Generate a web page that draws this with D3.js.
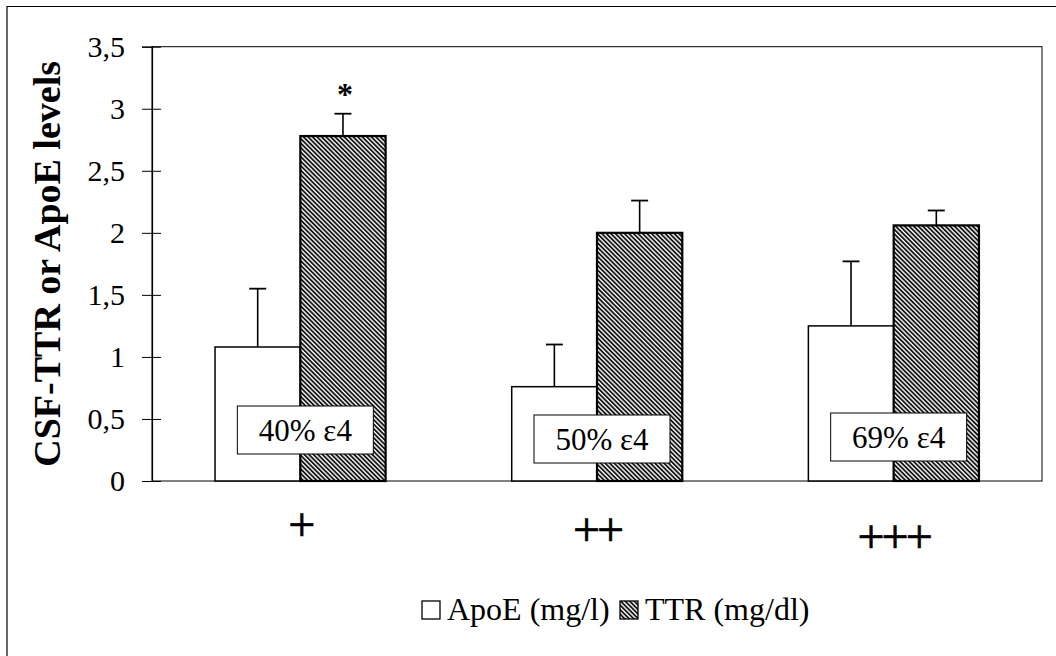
<!DOCTYPE html>
<html>
<head>
<meta charset="utf-8">
<script src="https://cdn.jsdelivr.net/npm/d3@7"></script>
<style>
  html, body { margin: 0; padding: 0; background: #fff; }
  svg { display: block; }
  text { font-family: "Liberation Serif", "Times New Roman", serif; fill: #000; }
</style>
</head>
<body>
<svg id="chart" width="1056" height="656"></svg>
<script>
// ---- data ----
const categories = ["+", "++", "+++"];
const series = ["ApoE (mg/l)", "TTR (mg/dl)"];
const apoeValues = [1.08, 0.76, 1.25];
const apoeErrors = [0.47, 0.34, 0.52];
const ttrValues = [2.78, 2.00, 2.06];
const ttrErrors = [0.18, 0.26, 0.12];
const e4Labels = ["40% ε4", "50% ε4", "69% ε4"];
const significance = ["*", "", ""];
const yTicks = [0, 0.5, 1, 1.5, 2, 2.5, 3, 3.5];
const yTitle = "CSF-TTR or ApoE levels";

// layout constants (not data)
const boxTops = [406, 415, 413];
const catBaselines = [541, 546, 553];

const svg = d3.select("#chart");

// hatch pattern
const defs = svg.append("defs");
const pat = defs.append("pattern")
  .attr("id", "hatch")
  .attr("patternUnits", "userSpaceOnUse")
  .attr("width", 3.2).attr("height", 3.2)
  .attr("patternTransform", "rotate(-45)");
pat.append("rect").attr("width", 3.2).attr("height", 3.2).attr("fill", "#fff");
pat.append("line").attr("x1", 1).attr("y1", 0).attr("x2", 1).attr("y2", 3.2)
  .attr("stroke", "#000").attr("stroke-width", 1.7);

// outer border (left and top visible)
svg.append("line").attr("x1", 7).attr("y1", 6).attr("x2", 7).attr("y2", 656)
  .attr("stroke", "#000").attr("stroke-width", 1.2);
svg.append("line").attr("x1", 7).attr("y1", 6.5).attr("x2", 1056).attr("y2", 6.5)
  .attr("stroke", "#000").attr("stroke-width", 1.2);

const plot = { left: 152, right: 1042, top: 46.7, bottom: 481 };

const y = d3.scaleLinear().domain([0, 3.5]).range([plot.bottom, plot.top]);
const x0 = d3.scaleBand().domain(categories)
  .range([plot.left, plot.right]).paddingInner(0.425).paddingOuter(0.2125);
const x1 = d3.scaleBand().domain(series).range([0, x0.bandwidth()]).padding(0);

// plot frame
svg.append("rect")
  .attr("x", plot.left).attr("y", plot.top)
  .attr("width", plot.right - plot.left).attr("height", plot.bottom - plot.top)
  .attr("fill", "none").attr("stroke", "#000").attr("stroke-width", 1);

// y axis
const yAxis = d3.axisLeft(y).tickValues(yTicks).tickSize(10).tickPadding(17)
  .tickFormat(d => String(d).replace(".", ","));
const gy = svg.append("g").attr("transform", `translate(${plot.left},0)`).call(yAxis);
gy.select(".domain").attr("stroke", "#000").attr("stroke-width", 1.2);
gy.selectAll(".tick line").attr("x1", 9).attr("stroke", "#000").attr("stroke-width", 1);
gy.selectAll(".tick text")
  .attr("font-family", "Liberation Serif").attr("font-size", 30).attr("fill", "#000");

// y title
svg.append("text")
  .attr("transform", `translate(60,${(plot.top + plot.bottom) / 2}) rotate(-90)`)
  .attr("text-anchor", "middle")
  .attr("font-size", 38).attr("font-weight", "bold")
  .text(yTitle);

// bars
const rows = categories.map((c, i) => ({
  i,
  cat: c,
  bars: [
    { s: series[0], v: apoeValues[i], e: apoeErrors[i] },
    { s: series[1], v: ttrValues[i], e: ttrErrors[i] }
  ],
  label: e4Labels[i],
  sig: significance[i]
}));

const groups = svg.selectAll("g.grp").data(rows).join("g")
  .attr("class", "grp")
  .attr("transform", d => `translate(${x0(d.cat)},0)`);

// error bars
groups.selectAll("g.err").data(d => d.bars).join("g").attr("class", "err")
  .each(function (d) {
    const g = d3.select(this);
    const cx = x1(d.s) + x1.bandwidth() / 2;
    g.append("line").attr("x1", cx).attr("x2", cx)
      .attr("y1", y(d.v)).attr("y2", y(d.v + d.e))
      .attr("stroke", "#000").attr("stroke-width", 1.6);
    g.append("line").attr("x1", cx - 8.5).attr("x2", cx + 8.5)
      .attr("y1", y(d.v + d.e)).attr("y2", y(d.v + d.e))
      .attr("stroke", "#000").attr("stroke-width", 1.8);
  });

groups.selectAll("rect.bar").data(d => d.bars).join("rect").attr("class", "bar")
  .attr("x", d => x1(d.s))
  .attr("y", d => y(d.v))
  .attr("width", x1.bandwidth())
  .attr("height", d => y(0) - y(d.v))
  .attr("fill", d => d.s === series[0] ? "#fff" : "url(#hatch)")
  .attr("stroke", "#000")
  .attr("stroke-width", d => d.s === series[0] ? 1.5 : 2.2);

// significance marker
groups.append("text")
  .attr("x", x1(series[1]) + x1.bandwidth() / 2 + 2)
  .attr("y", d => y(d.bars[1].v + d.bars[1].e) - 9)
  .attr("text-anchor", "middle")
  .attr("font-family", "Liberation Sans").attr("font-weight", "bold")
  .attr("font-size", 32)
  .text(d => d.sig);

// e4 label boxes
const boxW = 136, boxH = 48;
const labelG = groups.append("g")
  .attr("transform", d => `translate(${x0.bandwidth() / 2 + 5},${boxTops[d.i]})`);
labelG.append("rect")
  .attr("x", -boxW / 2).attr("y", 0)
  .attr("width", boxW).attr("height", boxH)
  .attr("fill", "#fff").attr("stroke", "#000").attr("stroke-width", 1);
labelG.append("text")
  .attr("x", 0).attr("y", boxH / 2 + 11)
  .attr("text-anchor", "middle").attr("font-size", 31)
  .text(d => d.label);

// category labels
svg.selectAll("text.cat").data(categories).join("text")
  .attr("class", "cat")
  .attr("x", d => x0(d) + x0.bandwidth() / 2)
  .attr("y", (d, i) => catBaselines[i])
  .attr("text-anchor", "middle")
  .attr("font-size", 48)
  .attr("letter-spacing", -3)
  .attr("stroke", "#000").attr("stroke-width", 0.7)
  .text(d => d);

// legend
const legend = svg.append("g");
const legX = [422, 620];
series.forEach((s, i) => {
  legend.append("rect")
    .attr("x", legX[i]).attr("y", 601)
    .attr("width", 18).attr("height", 18)
    .attr("fill", i === 0 ? "#fff" : "url(#hatch)")
    .attr("stroke", "#000").attr("stroke-width", 1.3);
  legend.append("text")
    .attr("x", legX[i] + 25).attr("y", 620)
    .attr("font-size", 32)
    .text(s);
});
</script>
</body>
</html>
